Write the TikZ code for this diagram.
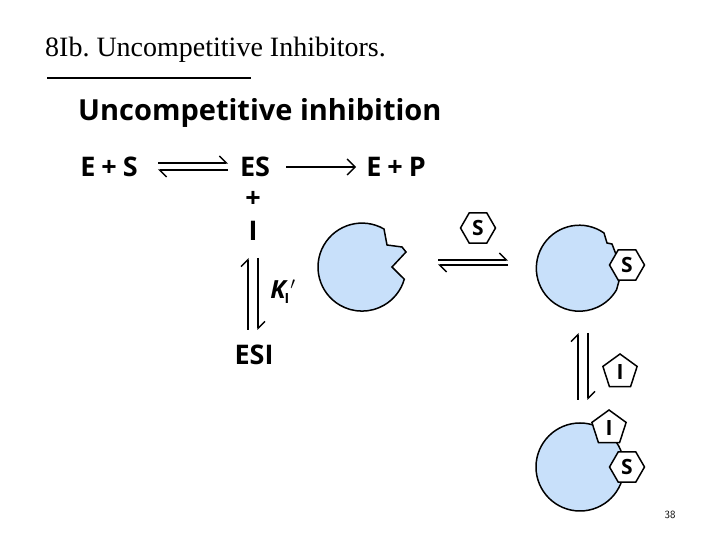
\documentclass[tikz,border=0pt]{standalone}
\usepackage{fontspec}
\setmainfont{Liberation Serif}
\newfontfamily\bsf{Open Sans}
\usetikzlibrary{arrows.meta,shapes.geometric}
\definecolor{enz}{RGB}{200,224,250}
\tikzset{
  lab/.style={font=\bsf\bfseries\fontsize{27}{28}\selectfont, inner sep=0pt},
  enzyme/.style={draw=black, line width=1.5pt, fill=enz},
  hexa/.style={regular polygon, regular polygon sides=6, shape border rotate=0, draw, line width=1.5pt, fill=white, minimum size=35pt, inner sep=0pt, font=\bsf\bfseries\fontsize{21}{21}\selectfont},
  penta/.style={regular polygon, regular polygon sides=5, draw, line width=1.5pt, fill=white, minimum size=36pt, inner sep=0pt, font=\bsf\bfseries\fontsize{21}{21}\selectfont},
  hr/.style={line width=1.4pt, -{Straight Barb[left,length=7pt]}},
}
\begin{document}
\frenchspacing
\begin{tikzpicture}[x=1pt,y=1pt]
\useasboundingbox (0,0) rectangle (720,540);
\node[anchor=west, font=\fontsize{28}{30}\selectfont, inner sep=0pt] (title) at (45,490) {8Ib. Uncompetitive Inhibitors.};
\coordinate (u1) at (47,462); \coordinate (u2) at (251,462);
\draw[line width=2.5pt] (u1) -- (u2);
\node[anchor=west, font=\bsf\bfseries\fontsize{29}{30}\selectfont, inner sep=0pt] (head) at (78,427) {Uncompetitive inhibition};
% equations
\node[lab] (ES0) at (109,373) {E\:+\:S};
\node[lab] (ES) at (255,373) {ES};
\node[lab] (EP) at (396,373) {E\:+\:P};
\coordinate (a1) at (158,377); \coordinate (a2) at (228,377);
\coordinate (b1) at (228,370); \coordinate (b2) at (158,370);
\draw[hr] (a1) -- (a2);
\draw[hr] (b1) -- (b2);
\draw[line width=1.4pt, -{Straight Barb[length=8pt]}] ([xshift=16pt]ES.east) -- ([xshift=-10pt]EP.west);
\node[lab] (plus) at (253,341) {+};
\node[lab] (I) at (253,309) {I};
\coordinate (v1) at (248,210); \coordinate (v2) at (248,282);
\coordinate (w1) at (258,282); \coordinate (w2) at (258,210);
\draw[hr] (v1) -- (v2);
\draw[hr] (w1) -- (w2);
\node[font=\bsf\bfseries\itshape\fontsize{25}{25}\selectfont, inner sep=0pt] (K) at (283,248) {K\kern-1pt\raisebox{-5pt}{\upshape\fontsize{14}{14}\selectfont I}\kern1pt$'$};
\node[lab] (ESI) at (254,185) {ESI};
% enzyme 1
\draw[enzyme] (384,311) arc[start angle=60,end angle=344,radius=44] -- (392,273) -- (406,288) -- (402,293) -- (387,295) -- cycle;
% arrows between
\coordinate (c1) at (438,280); \coordinate (c2) at (508,280);
\coordinate (d1) at (508,275); \coordinate (d2) at (438,275);
\draw[hr] (c1) -- (c2);
\draw[hr] (d1) -- (d2);
\node[hexa] (S1) at (478,312) {S};
% enzyme 2
\draw[enzyme] (604,307) arc[start angle=55,end angle=330,radius=43] -- (622,270) -- (612,296) -- (607,297) -- cycle;
\node[hexa] (S2) at (627,275) {S};
% vertical
\coordinate (e1) at (578,140); \coordinate (e2) at (578,207);
\coordinate (f1) at (588,207); \coordinate (f2) at (588,140);
\draw[hr] (e1) -- (e2);
\draw[hr] (f1) -- (f2);
\node[penta] (I1) at (620,168) {I};
% enzyme 3
\draw[enzyme] (580,73) circle[radius=44];
\node[penta] (I2) at (609,112) {I};
\node[hexa] (S3) at (627,73) {S};
\node[font=\sffamily\fontsize{11}{11}\selectfont] (pg) at (670,25) {38};
\end{tikzpicture}
\end{document}
